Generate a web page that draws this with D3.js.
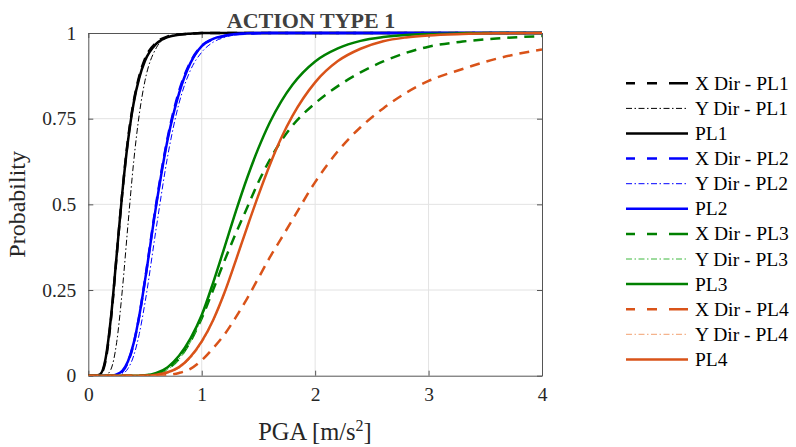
<!DOCTYPE html>
<html>
<head>
<meta charset="utf-8">
<script src="https://cdn.jsdelivr.net/npm/d3@7"></script>
<style>
  body { margin: 0; background: #fff; }
  text { font-family: "Liberation Serif", "DejaVu Serif", serif; fill: #262626; }
</style>
</head>
<body>
<script>
// PGA sample points (m/s2)
const pga = [0, 0.05, 0.1, 0.15, 0.2, 0.25, 0.3, 0.35, 0.4, 0.45, 0.5, 0.6, 0.7, 0.8, 0.9, 1, 1.1, 1.2, 1.3, 1.4, 1.5, 1.6, 1.7, 1.8, 2, 2.2, 2.4, 2.6, 2.8, 3, 3.3, 3.6, 4]

// probabilities
const xDirPL1 = [0, 0, 0.002, 0.040, 0.165, 0.350, 0.535, 0.690, 0.800, 0.875, 0.925, 0.972, 0.990, 0.996, 0.998, 1, 1, 1, 1, 1, 1, 1, 1, 1, 1, 1, 1, 1, 1, 1, 1, 1, 1]
const yDirPL1 = [0, 0, 0, 0.001, 0.019, 0.097, 0.250, 0.442, 0.624, 0.764, 0.861, 0.957, 0.988, 0.997, 0.999, 1, 1, 1, 1, 1, 1, 1, 1, 1, 1, 1, 1, 1, 1, 1, 1, 1, 1]
const pl1 = [0, 0, 0.003, 0.046, 0.171, 0.352, 0.535, 0.685, 0.796, 0.870, 0.919, 0.969, 0.988, 0.995, 0.998, 1, 1, 1, 1, 1, 1, 1, 1, 1, 1, 1, 1, 1, 1, 1, 1, 1, 1]
const xDirPL2 = [0, 0, 0, 0, 0, 0.003, 0.012, 0.040, 0.093, 0.175, 0.280, 0.505, 0.695, 0.830, 0.915, 0.962, 0.982, 0.991, 0.996, 0.998, 0.999, 1, 1, 1, 1, 1, 1, 1, 1, 1, 1, 1, 1]
const yDirPL2 = [0, 0, 0, 0, 0, 0.001, 0.005, 0.021, 0.058, 0.123, 0.213, 0.433, 0.641, 0.795, 0.891, 0.944, 0.973, 0.987, 0.995, 0.998, 1, 1, 1, 1, 1, 1, 1, 1, 1, 1, 1, 1, 1]
const pl2 = [0, 0, 0, 0, 0, 0.004, 0.014, 0.042, 0.095, 0.176, 0.278, 0.500, 0.690, 0.824, 0.912, 0.962, 0.983, 0.992, 0.997, 0.999, 1, 1, 1, 1, 1, 1, 1, 1, 1, 1, 1, 1, 1]
const xDirPL3 = [0, 0, 0, 0, 0, 0, 0, 0, 0, 0, 0.001, 0.006, 0.020, 0.050, 0.100, 0.168, 0.250, 0.335, 0.415, 0.490, 0.565, 0.630, 0.685, 0.730, 0.795, 0.845, 0.885, 0.917, 0.942, 0.960, 0.975, 0.984, 0.991]
const yDirPL3 = [0, 0, 0, 0, 0, 0, 0, 0, 0, 0, 0.001, 0.005, 0.018, 0.048, 0.098, 0.170, 0.265, 0.370, 0.476, 0.575, 0.663, 0.738, 0.800, 0.849, 0.917, 0.955, 0.977, 0.988, 0.994, 0.997, 0.999, 1, 1]
const pl3 = [0, 0, 0, 0, 0, 0, 0, 0, 0, 0, 0.001, 0.008, 0.025, 0.058, 0.108, 0.177, 0.271, 0.374, 0.479, 0.577, 0.664, 0.739, 0.800, 0.849, 0.917, 0.955, 0.977, 0.988, 0.994, 0.997, 0.999, 1, 1]
const xDirPL4 = [0, 0, 0, 0, 0, 0, 0, 0, 0, 0, 0, 0, 0.002, 0.008, 0.020, 0.045, 0.080, 0.120, 0.170, 0.225, 0.285, 0.345, 0.400, 0.455, 0.565, 0.655, 0.725, 0.780, 0.825, 0.860, 0.895, 0.925, 0.952]
const yDirPL4 = [0, 0, 0, 0, 0, 0, 0, 0, 0, 0, 0, 0.002, 0.008, 0.022, 0.050, 0.095, 0.158, 0.238, 0.333, 0.430, 0.525, 0.613, 0.692, 0.757, 0.855, 0.918, 0.954, 0.976, 0.987, 0.993, 0.997, 0.999, 1]
const pl4 = [0, 0, 0, 0, 0, 0, 0, 0, 0, 0, 0, 0.003, 0.010, 0.025, 0.055, 0.100, 0.162, 0.242, 0.336, 0.433, 0.527, 0.615, 0.693, 0.758, 0.856, 0.918, 0.954, 0.976, 0.987, 0.993, 0.997, 0.999, 1]

const seriesNames = ["X Dir - PL1", "Y Dir - PL1", "PL1", "X Dir - PL2", "Y Dir - PL2", "PL2",
                     "X Dir - PL3", "Y Dir - PL3", "PL3", "X Dir - PL4", "Y Dir - PL4", "PL4"]
const seriesValues = [xDirPL1, yDirPL1, pl1, xDirPL2, yDirPL2, pl2, xDirPL3, yDirPL3, pl3, xDirPL4, yDirPL4, pl4]
const xTicks = [0, 1, 2, 3, 4]
const yTicks = [0, 0.25, 0.5, 0.75, 1]

const colors = ["#000000", "#000000", "#000000", "#0000ff", "#0000ff", "#0000ff",
                "#008000", "#3cb83c", "#008000", "#d95319", "#f2a070", "#d95319"]
const styles = { dash: { w: 2.5, d: "10,7" }, dashdot: { w: 1, d: "6,2.5,1.5,2.5" }, solid: { w: 2.5, d: null } }
const kinds = ["dash", "dashdot", "solid"]

const w = 796
const h = 447
const pLeft = 88.3, pRight = 542, pTop = 33, pBottom = 375.7

const xScale = d3.scaleLinear().domain([0, 4]).range([pLeft, pRight])
const yScale = d3.scaleLinear().domain([0, 1]).range([pBottom, pTop])

const svg = d3.select("body").append("svg")
              .attr("width", w)
              .attr("height", h)

svg.append("defs").append("clipPath").attr("id", "clip")
   .append("rect").attr("x", pLeft).attr("y", pTop - 2)
   .attr("width", pRight - pLeft).attr("height", pBottom - pTop + 2)

// grid
svg.append("g").selectAll("line").data(xTicks.slice(1, -1)).enter().append("line")
   .attr("x1", d => xScale(d)).attr("x2", d => xScale(d))
   .attr("y1", pTop).attr("y2", pBottom)
   .attr("stroke", "#e3e3e3").attr("stroke-width", 1)
svg.append("g").selectAll("line").data(yTicks.slice(1, -1)).enter().append("line")
   .attr("y1", d => yScale(d)).attr("y2", d => yScale(d))
   .attr("x1", pLeft).attr("x2", pRight)
   .attr("stroke", "#e3e3e3").attr("stroke-width", 1)

// axes with inward ticks
const xAxis = d3.axisBottom(xScale).tickValues(xTicks).tickSizeInner(-5).tickSizeOuter(0).tickPadding(11).tickFormat(d => String(d))
const yAxis = d3.axisLeft(yScale).tickValues(yTicks).tickSizeInner(-5).tickSizeOuter(0).tickPadding(12).tickFormat(d => String(d))
svg.append("g").attr("transform", "translate(0," + pBottom + ")").call(xAxis)
svg.append("g").attr("transform", "translate(" + pLeft + ",0)").call(yAxis)
svg.append("g").attr("transform", "translate(0," + pTop + ")")
   .call(d3.axisTop(xScale).tickValues(xTicks).tickSizeInner(-5).tickSizeOuter(0).tickFormat(""))
svg.append("g").attr("transform", "translate(" + pRight + ",0)")
   .call(d3.axisRight(yScale).tickValues(yTicks).tickSizeInner(-5).tickSizeOuter(0).tickFormat(""))
svg.selectAll(".domain").attr("stroke", "#555")
svg.selectAll(".tick line").attr("stroke", "#555")
svg.selectAll(".tick text").attr("font-size", 19.5)
   .style("font-family", "'Liberation Serif', serif").style("fill", "#262626")

// curves
const line = d3.line()
               .x((d, i) => xScale(pga[i]))
               .y(d => yScale(d))
               .curve(d3.curveMonotoneX)
svg.append("g").attr("clip-path", "url(#clip)")
   .selectAll("path").data(seriesValues).enter().append("path")
   .attr("d", d => line(d))
   .attr("fill", "none")
   .attr("stroke", (d, i) => colors[i])
   .attr("stroke-width", (d, i) => styles[kinds[i % 3]].w)
   .attr("stroke-dasharray", (d, i) => styles[kinds[i % 3]].d)

// title and labels
svg.append("text").attr("x", 311).attr("y", 28).attr("text-anchor", "middle")
   .attr("font-size", 22).attr("font-weight", "bold").style("fill", "#404040")
   .text("ACTION TYPE 1")
const xl = svg.append("text").attr("x", 315).attr("y", 440).attr("text-anchor", "middle").attr("font-size", 24.5)
xl.append("tspan").text("PGA [m/s")
xl.append("tspan").attr("font-size", 16).attr("dy", -9).text("2")
xl.append("tspan").attr("dy", 9).text("]")
svg.append("text").attr("transform", "translate(25," + (pTop + pBottom) / 2 + ") rotate(-90)")
   .attr("text-anchor", "middle").attr("font-size", 24).text("Probability")

// legend
const legendY = i => 83.3 + i * 25.1
const lg = svg.append("g").selectAll("g").data(seriesNames).enter().append("g")
lg.append("line")
  .attr("x1", 626).attr("x2", 688)
  .attr("y1", (d, i) => legendY(i)).attr("y2", (d, i) => legendY(i))
  .attr("stroke", (d, i) => colors[i])
  .attr("stroke-width", (d, i) => styles[kinds[i % 3]].w)
  .attr("stroke-dasharray", (d, i) => kinds[i % 3] === "dash" ? "9,12,10,12,19" : styles[kinds[i % 3]].d)
lg.append("text")
  .attr("x", 695).attr("y", (d, i) => legendY(i) + 6.5)
  .attr("font-size", 19.5).style("fill", "#000")
  .text(d => d)
</script>
</body>
</html>
